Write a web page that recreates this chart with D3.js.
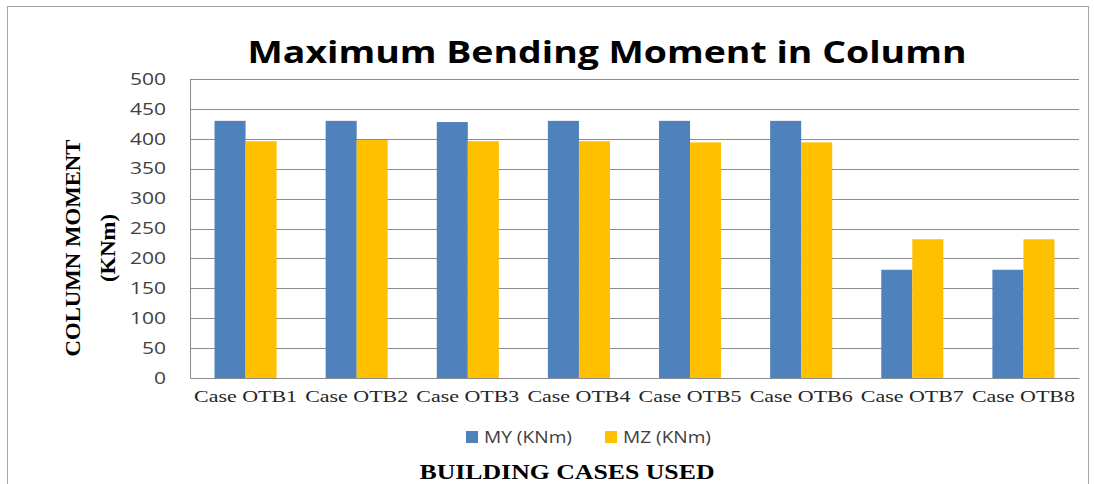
<!DOCTYPE html>
<html lang="en">
<head>
    <meta charset="UTF-8">
    <title>Maximum Bending Moment in Column</title>
    <script src="https://d3js.org/d3.v7.min.js"></script>
    <style>
        body { margin: 0; background: #fff; }
    </style>
</head>
<body>
    <div id="plot"></div>

    <script>
        // chart data
        let cases = ['Case OTB1', 'Case OTB2', 'Case OTB3', 'Case OTB4',
                     'Case OTB5', 'Case OTB6', 'Case OTB7', 'Case OTB8'];
        let seriesNames = ['MY (KNm)', 'MZ (KNm)'];
        let myValues = [430, 430, 428, 430, 430, 430, 181, 181];
        let mzValues = [396, 398, 396, 396, 394, 394, 232, 232];
        let yTicks = [0, 50, 100, 150, 200, 250, 300, 350, 400, 450, 500];

        function translate(x, y){
            return 'translate(' + x + ', ' + y + ')';
        }

        let svgWidth = 1094, svgHeight = 484;
        let margin = {top: 79, right: 15, bottom: 106, left: 190};
        let width = svgWidth - margin.left - margin.right;
        let height = svgHeight - margin.top - margin.bottom;
        let colors = ['#4f81bd', '#ffc000'];

        let data = cases.map((c, i) => ({case: c, values: [myValues[i], mzValues[i]]}));

        let root = d3.select('#plot')
            .append('svg')
            .attr('width', svgWidth)
            .attr('height', svgHeight);

        // outer chart border
        root.append('rect')
            .attr('x', 7.5).attr('y', 6.5)
            .attr('width', 1081).attr('height', 490)
            .attr('fill', 'none')
            .attr('stroke', '#a6a6a6');

        root.append('text')
            .attr('x', 607).attr('y', 63)
            .attr('text-anchor', 'middle')
            .attr('textLength', 719)
            .attr('lengthAdjust', 'spacingAndGlyphs')
            .style('font-family', 'Open Sans, sans-serif')
            .style('font-weight', 'bold')
            .style('font-size', '31px')
            .text('Maximum Bending Moment in Column');

        let svg = root.append('g').attr('transform', translate(margin.left, margin.top));

        let x = d3.scaleBand().domain(cases).range([0, width]);
        let xInner = d3.scaleBand().domain(seriesNames)
            .range([0, x.bandwidth()]).paddingOuter(0.79);
        let y = d3.scaleLinear().domain([0, 500]).range([height, 0]);

        // gridlines
        svg.append('g')
            .selectAll('line')
            .data(yTicks.slice(1))
            .enter()
            .append('line')
            .attr('x1', 0).attr('x2', width)
            .attr('y1', d => Math.round(y(d)) + 0.5)
            .attr('y2', d => Math.round(y(d)) + 0.5)
            .attr('stroke', '#8c8c8c')
            .attr('stroke-width', 1);

        // bars
        let groups = svg.selectAll('.grp')
            .data(data)
            .enter()
            .append('g')
            .attr('class', 'grp')
            .attr('transform', d => translate(x(d.case), 0));

        groups.selectAll('rect')
            .data(d => d.values.map((v, i) => ({name: seriesNames[i], value: v, i: i})))
            .enter()
            .append('rect')
            .attr('x', d => xInner(d.name))
            .attr('width', xInner.bandwidth())
            .attr('y', d => y(d.value))
            .attr('height', d => height - y(d.value))
            .attr('fill', d => colors[d.i]);

        // y axis
        let yAxis = d3.axisLeft(y).tickValues(yTicks).tickSize(0).tickPadding(24);
        let yg = svg.append('g').call(yAxis);
        yg.select('.domain').attr('stroke', '#8c8c8c');
        yg.selectAll('text')
            .attr('textLength', d => String(d).length * 12)
            .attr('lengthAdjust', 'spacingAndGlyphs')
            .style('font-family', 'Open Sans, sans-serif')
            .style('font-size', '16.5px')
            .attr('fill', '#404040');

        // x axis
        let xAxis = d3.axisBottom(x).tickSize(0).tickPadding(12);
        let xg = svg.append('g').attr('transform', translate(0, height)).call(xAxis);
        xg.select('.domain').attr('stroke', '#8c8c8c');
        xg.selectAll('text')
            .attr('textLength', 103)
            .attr('lengthAdjust', 'spacingAndGlyphs')
            .style('font-family', 'Liberation Serif, serif')
            .style('font-size', '16.5px')
            .attr('fill', '#262626');

        // y axis title
        let yt = root.append('text')
            .attr('transform', 'translate(80, 248) rotate(-90)')
            .attr('text-anchor', 'middle')
            .style('font-family', 'Liberation Serif, serif')
            .style('font-weight', 'bold')
            .style('font-size', '21px');
        yt.append('tspan').attr('x', 0).attr('y', 0)
            .attr('textLength', 217).attr('lengthAdjust', 'spacingAndGlyphs')
            .text('COLUMN MOMENT');
        yt.append('tspan').attr('x', 0).attr('y', 35)
            .attr('textLength', 68).attr('lengthAdjust', 'spacingAndGlyphs')
            .text('(KNm)');

        // legend
        let legend = root.append('g').attr('transform', translate(466, 431));
        let items = legend.selectAll('g')
            .data(seriesNames)
            .enter()
            .append('g')
            .attr('transform', (d, i) => translate(i * 139, 0));
        items.append('rect')
            .attr('width', 12).attr('height', 12)
            .attr('fill', (d, i) => colors[i]);
        items.append('text')
            .attr('x', 18).attr('y', 12)
            .attr('textLength', 88)
            .attr('lengthAdjust', 'spacingAndGlyphs')
            .style('font-family', 'Open Sans, sans-serif')
            .style('font-size', '16px')
            .attr('fill', '#404040')
            .text(d => d);

        root.append('text')
            .attr('x', 567).attr('y', 479)
            .attr('text-anchor', 'middle')
            .attr('textLength', 295)
            .attr('lengthAdjust', 'spacingAndGlyphs')
            .style('font-family', 'Liberation Serif, serif')
            .style('font-weight', 'bold')
            .style('font-size', '21px')
            .text('BUILDING CASES USED');
    </script>
</body>
</html>
